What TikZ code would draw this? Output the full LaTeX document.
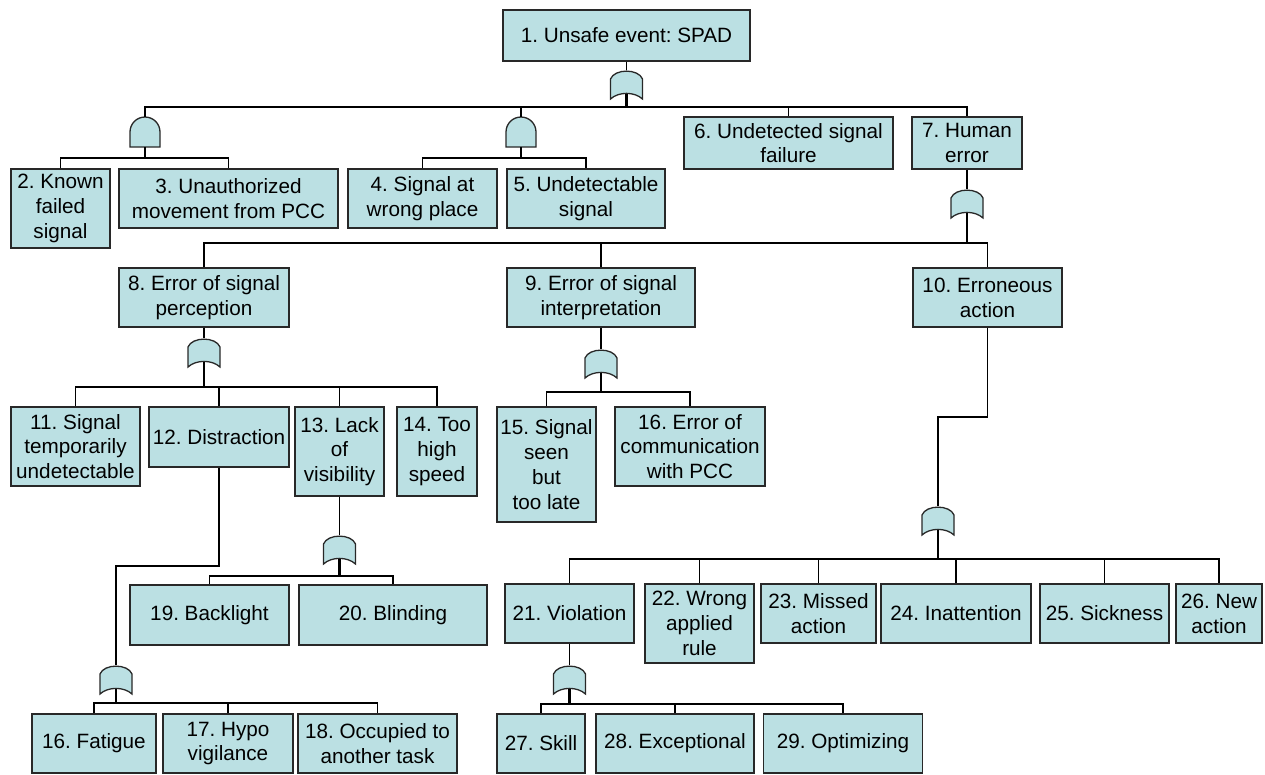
\documentclass[tikz,border=0pt]{standalone}
\usepackage{fontspec}
\setmainfont{Liberation Sans}
\frenchspacing
\definecolor{boxfill}{RGB}{187,224,227}
\definecolor{edgecol}{RGB}{40,40,40}
\tikzset{
  box/.style={draw=edgecol, fill=boxfill, line width=1.3pt, inner sep=0pt,
    align=center, font=\fontsize{20.7pt}{24.8pt}\selectfont},
  wire/.style={draw=black, line width=1.3pt},
  stem/.style={draw=black, line width=2.1pt},
  gatebody/.style={draw=edgecol, fill=boxfill, line width=1.3pt},
  orgate/.pic={
    \path[gatebody] (-16,9) .. controls (-12,-1.5) and (12,-1.5) .. (16,9)
      -- (16,29) .. controls (8,21.5) and (-8,21.5) .. (-16,29) -- cycle;
    \coordinate (-top) at (0,0);
    \coordinate (-bot) at (0,23.5);
  },
  andgate/.pic={
    \path[gatebody] (-15,30) -- (-15,15) .. controls (-15,6.7) and (-8.3,0) .. (0,0)
      .. controls (8.3,0) and (15,6.7) .. (15,15) -- (15,30) -- cycle;
    \coordinate (-top) at (0,0);
    \coordinate (-bot) at (0,30);
  }
}
\begin{document}
\begin{tikzpicture}[x=1pt, y=-1pt]
\useasboundingbox (0,0) rectangle (1265,774);

% ---- events ----
\node[box, minimum width=247pt, minimum height=51pt] (n1) at (626.5,35.5) {1. Unsafe event: SPAD};
\node[box, minimum width=99pt,  minimum height=79pt] (n2) at (60.5,208.5) {2. Known\\failed\\signal};
\node[box, minimum width=219pt, minimum height=59pt] (n3) at (228.5,198.5) {3. Unauthorized\\movement from PCC};
\node[box, minimum width=149pt, minimum height=59pt] (n4) at (422.5,198.5) {4. Signal at\\wrong place};
\node[box, minimum width=158pt, minimum height=59pt] (n5) at (586,198.5) {5. Undetectable\\signal};
\node[box, minimum width=209pt, minimum height=52pt] (n6) at (788.5,143) {6. Undetected signal\\failure};
\node[box, minimum width=110pt, minimum height=52pt] (n7) at (967,143) {7. Human\\error};
\node[box, minimum width=170pt, minimum height=59pt] (n8) at (204,297.5) {8. Error of signal\\perception};
\node[box, minimum width=188pt, minimum height=59pt] (n9) at (601,297.5) {9. Error of signal\\interpretation};
\node[box, minimum width=149pt, minimum height=59pt] (n10) at (987.5,297.5) {10. Erroneous\\action};
\node[box, minimum width=129pt, minimum height=79pt] (n11) at (75.5,446.5) {11. Signal\\temporarily\\undetectable};
\node[box, minimum width=140pt, minimum height=60pt] (n12) at (219,437) {12. Distraction};
\node[box, minimum width=89pt,  minimum height=89pt] (n13) at (339.5,451.5) {13. Lack\\of\\visibility};
\node[box, minimum width=80pt,  minimum height=89pt] (n14) at (437,451.5) {14. Too\\high\\speed};
\node[box, minimum width=99pt,  minimum height=115pt] (n15) at (546.5,464.5) {15. Signal\\seen\\but\\too late};
\node[box, minimum width=150pt, minimum height=79pt] (n16) at (690,446.5) {16. Error of\\communication\\with PCC};
\node[box, minimum width=159pt, minimum height=60pt] (n19) at (209.5,615) {19. Backlight};
\node[box, minimum width=188pt, minimum height=60pt] (n20) at (393,615) {20. Blinding};
\node[box, minimum width=124pt, minimum height=59pt] (nf16) at (94,743.5) {16. Fatigue};
\node[box, minimum width=130pt, minimum height=59pt] (n17) at (228,743.5) {17. Hypo\\vigilance};
\node[box, minimum width=159pt, minimum height=59pt] (n18) at (377.5,743.5) {18. Occupied to\\another task};
\node[box, minimum width=129pt, minimum height=59pt] (n21) at (569.5,613.5) {21. Violation};
\node[box, minimum width=109pt, minimum height=79pt] (n22) at (699.5,623.5) {22. Wrong\\applied\\rule};
\node[box, minimum width=115pt, minimum height=59pt] (n23) at (818.5,613.5) {23. Missed\\action};
\node[box, minimum width=150pt, minimum height=59pt] (n24) at (956,613.5) {24. Inattention};
\node[box, minimum width=129pt, minimum height=59pt] (n25) at (1104.5,613.5) {25. Sickness};
\node[box, minimum width=86pt,  minimum height=59pt] (n26) at (1219,613.5) {26. New\\action};
\node[box, minimum width=88pt,  minimum height=59pt] (n27) at (541,743.5) {27. Skill};
\node[box, minimum width=158pt, minimum height=59pt] (n28) at (675,743.5) {28. Exceptional};
\node[box, minimum width=159pt, minimum height=59pt] (n29) at (843,743.5) {29. Optimizing};

% ---- gates ----
\pic (g1) at (626.5,70) {orgate};
\pic (g2) at (145,117) {andgate};
\pic (g3) at (521,117) {andgate};
\pic (g4) at (967,189) {orgate};
\pic (g5) at (204,338) {orgate};
\pic (g6) at (601,349) {orgate};
\pic (g7) at (938,506) {orgate};
\pic (g8) at (569.5,665) {orgate};
\pic (g9) at (339.5,535) {orgate};
\pic (g10) at (116,665) {orgate};

% ---- bar levels and bends ----
\coordinate (bar1) at (0,107);
\coordinate (bar2) at (0,158);
\coordinate (bar3) at (0,243);
\coordinate (bar4) at (0,387);
\coordinate (bar5) at (0,392);
\coordinate (bar6) at (0,559);
\coordinate (bar7) at (0,704);
\coordinate (bar8) at (0,576);
\coordinate (bar9) at (0,703);
\coordinate (bend1) at (0,417);
\coordinate (bend2) at (0,566);

% ---- top event ----
\draw[wire] (n1.south) -- (g1-top);
\draw[stem] (g1-bot) -- (g1-bot |- bar1);
\draw[wire] (g2-top) -- (g2-top |- bar1) -- (n7.north |- bar1) -- (n7.north);
\draw[wire] (g3-top) -- (g3-top |- bar1);
\draw[wire] (n6.north) -- (n6.north |- bar1);

% ---- AND gates ----
\draw[stem] (g2-bot) -- (g2-bot |- bar2);
\draw[wire] (n2.north) -- (n2.north |- bar2) -- (n3.north |- bar2) -- (n3.north);
\draw[stem] (g3-bot) -- (g3-bot |- bar2);
\draw[wire] (n4.north) -- (n4.north |- bar2) -- (n5.north |- bar2) -- (n5.north);

% ---- human error ----
\draw[wire] (n7.south) -- (g4-top);
\draw[stem] (g4-bot) -- (g4-bot |- bar3);
\draw[wire] (n8.north) -- (n8.north |- bar3) -- (n10.north |- bar3) -- (n10.north);
\draw[wire] (n9.north) -- (n9.north |- bar3);

% ---- perception ----
\draw[wire] (n8.south) -- (g5-top);
\draw[stem] (g5-bot) -- (g5-bot |- bar4);
\draw[wire] (n11.north) -- (n11.north |- bar4) -- (n14.north |- bar4) -- (n14.north);
\draw[wire] (n12.north) -- (n12.north |- bar4);
\draw[wire] (n13.north) -- (n13.north |- bar4);

% ---- interpretation ----
\draw[wire] (n9.south) -- (g6-top);
\draw[stem] (g6-bot) -- (g6-bot |- bar5);
\draw[wire] (n15.north) -- (n15.north |- bar5) -- (n16.north |- bar5) -- (n16.north);

% ---- erroneous action ----
\draw[wire] (n10.south) -- (n10.south |- bend1) -| (g7-top);
\draw[stem] (g7-bot) -- (g7-bot |- bar6);
\draw[wire] (n21.north) -- (n21.north |- bar6) -- (n26.north |- bar6) -- (n26.north);
\draw[wire] (n22.north) -- (n22.north |- bar6);
\draw[wire] (n23.north) -- (n23.north |- bar6);
\draw[wire] (n24.north) -- (n24.north |- bar6);
\draw[wire] (n25.north) -- (n25.north |- bar6);

% ---- violation ----
\draw[wire] (n21.south) -- (g8-top);
\draw[stem] (g8-bot) -- (g8-bot |- bar7);
\draw[wire] (n27.north) -- (n27.north |- bar7) -- (n29.north |- bar7) -- (n29.north);
\draw[wire] (n28.north) -- (n28.north |- bar7);

% ---- lack of visibility ----
\draw[wire] (n13.south) -- (g9-top);
\draw[stem] (g9-bot) -- (g9-bot |- bar8);
\draw[wire] (n19.north) -- (n19.north |- bar8) -- (n20.north |- bar8) -- (n20.north);

% ---- distraction ----
\draw[wire] (n12.south) -- (n12.south |- bend2) -| (g10-top);
\draw[stem] (g10-bot) -- (g10-bot |- bar9);
\draw[wire] (nf16.north) -- (nf16.north |- bar9) -- (n18.north |- bar9) -- (n18.north);
\draw[wire] (n17.north) -- (n17.north |- bar9);
\end{tikzpicture}
\end{document}
